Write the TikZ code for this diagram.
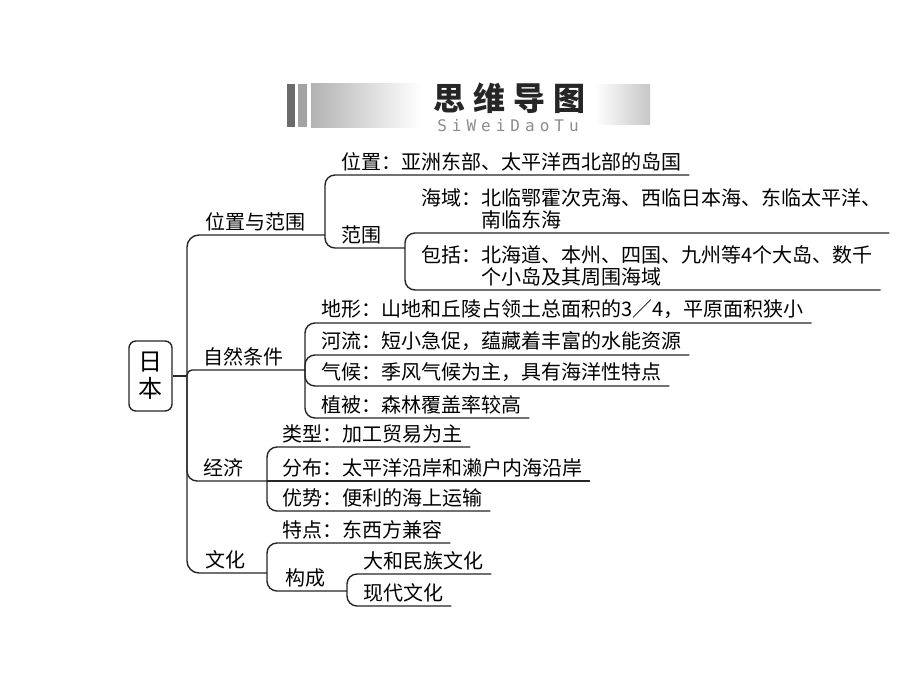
\documentclass[tikz,border=0pt]{standalone}
\usepackage{fontspec}
\usepackage{tikz}
\newfontfamily\cjk{Noto Sans CJK SC}
\newfontfamily\pinyin{DejaVu Sans Mono}
\tikzstyle{link} = [line width=1.4pt, black!85, rounded corners=10pt]
\tikzstyle{topic} = [anchor=south west, inner xsep=8pt, inner ysep=4pt, align=left, font=\cjk\fontsize{20}{22}\selectfont]
\tikzstyle{rootbox} = [draw=black!85, line width=1.4pt, rounded corners=7pt, minimum width=43pt, minimum height=70pt, align=center, font=\cjk\fontsize{24}{27}\selectfont]

\begin{document}
\begin{tikzpicture}[x=1pt, y=-1pt]
      \useasboundingbox[fill=white] (0,0) rectangle (920,690);
      % header banner
      \fill[black!58] (287,84) rectangle (295,127);
      \fill[black!36] (298,84) rectangle (307,127);
      \shade[left color=black!30, right color=white] (311,84) rectangle (420,127);
      \shade[left color=white, right color=black!22] (595,85) rectangle (650,125);
      \node (title) at (509,98) [font=\cjk\bfseries\fontsize{32}{32}\selectfont, text=black!85] {思\hspace{8pt}维\hspace{8pt}导\hspace{8pt}图};
      \node (titlepy) at (508,126) [font=\pinyin\fontsize{16}{16}\selectfont, text=black!45] {S\kern5pt i\kern5pt W\kern5pt e\kern5pt i\kern5pt D\kern5pt a\kern5pt o\kern5pt T\kern5pt u};

      % root and trunk
      \node (root) at (150.5,376) [rootbox] {日\\本};
      \coordinate (rootJ) at (187,376);
      \draw [link] (root.east) -- (rootJ);

      \node (wzfw) at (197,235) [topic] {位置与范围};
      \node (zrtj) at (195,370) [topic] {自然条件};
      \node (jingji) at (195,481) [topic] {经济};
      \node (wenhua) at (197,573) [topic] {文化};
      \coordinate (wzfwJ) at (325,235);
      \coordinate (zrtjJ) at (305,370);
      \coordinate (jingjiJ) at (267,481);
      \coordinate (wenhuaJ) at (267,573);
      \draw [link, rounded corners=12pt] (rootJ) |- (wzfwJ);
      \draw [link, rounded corners=5pt] (rootJ) |- (zrtjJ);
      \draw [link] (rootJ) |- (jingjiJ);
      \draw [link, rounded corners=12pt] (rootJ) |- (wenhuaJ);

      % 位置与范围
      \node (weizhi) at (333,175) [topic] {位置：亚洲东部、太平洋西北部的岛国};
      \node (fanwei) at (333,248) [topic] {范围};
      \coordinate (fanweiJ) at (405,248);
      \draw [link] (wzfwJ) |- (weizhi.south east);
      \draw [link] (wzfwJ) |- (fanweiJ);
      \node (haiyu) at (413,233) [topic] {海域：北临鄂霍次克海、西临日本海、东临太平洋、\\\hphantom{海域：}南临东海};
      \node (baokuo) at (413,290) [topic] {包括：北海道、本州、四国、九州等4个大岛、数千\\\hphantom{包括：}个小岛及其周围海域};
      \draw [link] (fanweiJ) |- (haiyu.south east);
      \draw [link] (fanweiJ) |- (baokuo.south east);

      % 自然条件
      \node (dixing) at (313,323) [topic] {地形：山地和丘陵占领土总面积的3／4，平原面积狭小};
      \node (heliu) at (313,355) [topic] {河流：短小急促，蕴藏着丰富的水能资源};
      \node (qihou) at (313,386) [topic] {气候：季风气候为主，具有海洋性特点};
      \node (zhibei) at (313,418) [topic] {植被：森林覆盖率较高};
      \draw [link] (zrtjJ) |- (dixing.south east);
      \draw [link] (zrtjJ) |- (heliu.south east);
      \draw [link] (zrtjJ) |- (qihou.south east);
      \draw [link] (zrtjJ) |- (zhibei.south east);

      % 经济
      \node (leixing) at (274,447) [topic] {类型：加工贸易为主};
      \node (fenbu) at (274,481) [topic] {分布：太平洋沿岸和濑户内海沿岸};
      \node (youshi) at (274,511) [topic] {优势：便利的海上运输};
      \draw [link] (jingjiJ) |- (leixing.south east);
      \draw [link] (jingjiJ) -- (fenbu.south east);
      \draw [link] (jingjiJ) |- (youshi.south east);

      % 文化
      \node (tedian) at (274,543) [topic] {特点：东西方兼容};
      \node (goucheng) at (277,591) [topic] {构成};
      \coordinate (gouchengJ) at (347,591);
      \draw [link] (wenhuaJ) |- (tedian.south east);
      \draw [link] (wenhuaJ) |- (gouchengJ);
      \node (dahe) at (355,574) [topic] {大和民族文化};
      \node (xiandai) at (355,606) [topic] {现代文化};
      \draw [link] (gouchengJ) |- (dahe.south east);
      \draw [link] (gouchengJ) |- (xiandai.south east);
\end{tikzpicture}
\end{document}
